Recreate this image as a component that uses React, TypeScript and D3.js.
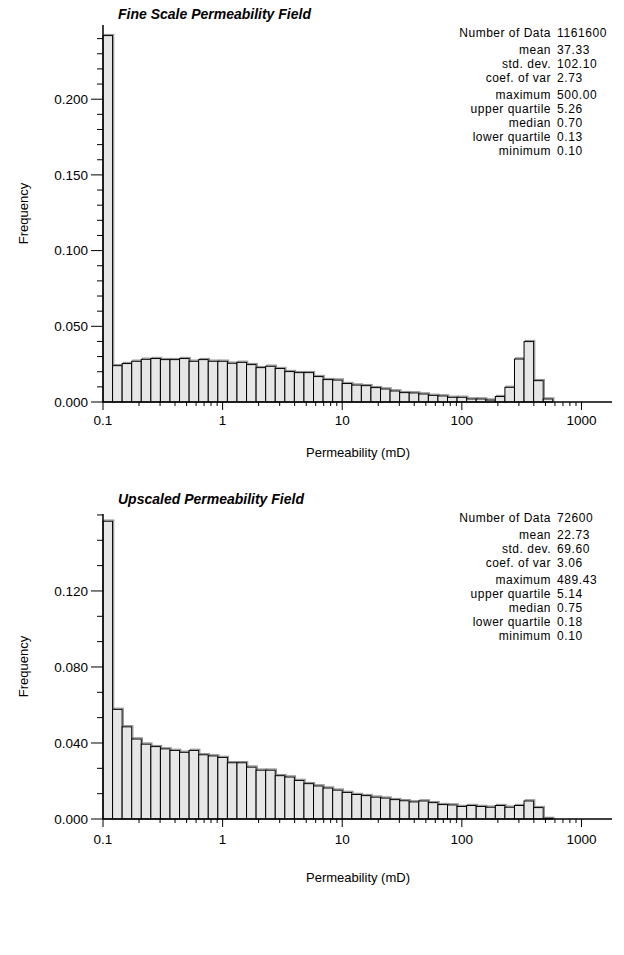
import React from 'react'
import * as d3 from 'd3'

// histogram bins: 50 log-spaced classes from 0.1 to 1000 mD
const binCount = 50
const logMin = -1
const logMax = 3

// class frequencies (bins past the last value are empty)
const fineFreq = [
  0.242, 0.024, 0.0254, 0.0269, 0.0282, 0.0287, 0.028, 0.028, 0.0287, 0.0269,
  0.028, 0.0269, 0.0269, 0.0256, 0.0262, 0.0247, 0.0227, 0.0236, 0.0221, 0.0201,
  0.0194, 0.0194, 0.0168, 0.0148, 0.0145, 0.0122, 0.0112, 0.0108, 0.0095, 0.0086,
  0.0073, 0.0062, 0.006, 0.0053, 0.0044, 0.004, 0.0031, 0.0031, 0.002, 0.002,
  0.0013, 0.0036, 0.0097, 0.0284, 0.0399, 0.0141, 0.002
]
const upFreq = [
  0.1567, 0.0577, 0.0485, 0.0421, 0.0394, 0.0381, 0.0369, 0.0361, 0.0351, 0.0361,
  0.0338, 0.0332, 0.0324, 0.0296, 0.0296, 0.0273, 0.0257, 0.0257, 0.0228, 0.0221,
  0.0203, 0.0186, 0.0174, 0.0163, 0.0152, 0.014, 0.0129, 0.0123, 0.0115, 0.011,
  0.0102, 0.0096, 0.009, 0.0095, 0.0086, 0.0076, 0.0074, 0.0066, 0.0071, 0.0066,
  0.0062, 0.0071, 0.0062, 0.0071, 0.0095, 0.006, 0.0003
]

const statLabels = [
  'Number of Data', 'mean', 'std. dev.', 'coef. of var',
  'maximum', 'upper quartile', 'median', 'lower quartile', 'minimum'
]
const fineStats = ['1161600', '37.33', '102.10', '2.73', '500.00', '5.26', '0.70', '0.13', '0.10']
const upStats = ['72600', '22.73', '69.60', '3.06', '489.43', '5.14', '0.75', '0.18', '0.10']

const xTickValues = [0.1, 1, 10, 100, 1000]
const xTickLabels = ['0.1', '1', '10', '100', '1000']
const fineYLabels = [0, 0.05, 0.1, 0.15, 0.2]
const upYLabels = [0, 0.04, 0.08, 0.12]

const font = "'Liberation Sans', Arial, sans-serif"

function Histogram({ layout, title, freq, stats, yMax, yMinor, yLabels }) {
  const { titleY, statsY, plotTop, plotBottom, tickY, labelY } = layout

  const x = d3.scaleLog().domain([0.1, 1800]).range([103, 612])
  const y = d3.scaleLinear().domain([0, yMax]).range([plotBottom, plotTop])

  const edges = d3.range(binCount + 1).map(i => Math.pow(10, logMin + ((logMax - logMin) * i) / binCount))
  const bars = freq.map((f, i) => ({
    x: x(edges[i]),
    w: x(edges[i + 1]) - x(edges[i]),
    y: y(f),
    h: y(0) - y(f)
  }))

  const yTicks = d3.range(0, Math.floor(yMax / yMinor + 1e-6) + 1).map(i => i * yMinor)
  const isMajor = v => yLabels.some(l => Math.abs(l - v) < 1e-6)
  const xTicks = x.ticks().filter(v => v >= 0.1)
  const fmt = d3.format('.3f')

  const statRows = [0, 17, 31, 45, 62, 76, 90, 104, 118]

  return (
    <g fontFamily={font} fill="#000">
      <text x={118} y={titleY} fontSize={14} fontWeight="bold" fontStyle="italic">{title}</text>

      {/* stats block */}
      {statLabels.map((s, i) => (
        <g key={s}>
          <text x={551} y={statsY + statRows[i]} dy="0.35em" fontSize={12} letterSpacing={0.5} textAnchor="end">{s}</text>
          <text x={557} y={statsY + statRows[i]} dy="0.35em" fontSize={12} letterSpacing={0.6}>{stats[i]}</text>
        </g>
      ))}

      {/* bars with a faint offset shadow */}
      {bars.map((b, i) => (
        <rect key={'s' + i} x={b.x + 1.2} y={b.y - 1.2} width={b.w} height={b.h} fill="none" stroke="#8a8a8a" strokeWidth={1} />
      ))}
      {bars.map((b, i) => (
        <rect key={i} x={b.x} y={b.y} width={b.w} height={b.h} fill="#e6e6e6" stroke="#000" strokeWidth={1} />
      ))}

      {/* y axis */}
      <line x1={103} x2={103} y1={plotTop} y2={plotBottom} stroke="#000" strokeWidth={1.5} />
      {yTicks.map(v => (
        <line key={v} x1={103 - (isMajor(v) ? 12 : 6)} x2={103} y1={y(v)} y2={y(v)} stroke="#000" strokeWidth={1} />
      ))}
      {yLabels.map(v => (
        <text key={'l' + v} x={88} y={y(v)} dy="0.35em" fontSize={13.5} textAnchor="end">{fmt(v)}</text>
      ))}
      <text transform={`translate(23,${(plotTop + plotBottom) / 2}) rotate(-90)`} fontSize={13} textAnchor="middle" dy="0.35em">Frequency</text>

      {/* x axis */}
      <line x1={103} x2={612} y1={plotBottom} y2={plotBottom} stroke="#000" strokeWidth={1.5} />
      {xTicks.map(v => {
        const major = xTickValues.some(t => Math.abs(t - v) < 1e-9)
        return <line key={v} x1={x(v)} x2={x(v)} y1={plotBottom} y2={plotBottom + (major ? 8 : 4)} stroke="#000" strokeWidth={1} />
      })}
      {xTickValues.map((v, i) => (
        <text key={'x' + v} x={x(v)} y={tickY} dy="0.35em" fontSize={13.5} textAnchor="middle">{xTickLabels[i]}</text>
      ))}
      <text x={358} y={labelY} dy="0.35em" fontSize={13} textAnchor="middle">Permeability (mD)</text>
    </g>
  )
}

const topLayout = { titleY: 19, statsY: 33, plotTop: 25, plotBottom: 402, tickY: 420, labelY: 452 }
const bottomLayout = { titleY: 504, statsY: 518, plotTop: 514, plotBottom: 819, tickY: 839, labelY: 877 }

export default function App() {
  return (
    <svg width={624} height={955} style={{ position: 'absolute', left: 0, top: 0, background: '#fff' }}>
      <Histogram layout={topLayout} title="Fine Scale Permeability Field" freq={fineFreq} stats={fineStats}
        yMax={0.249} yMinor={0.01} yLabels={fineYLabels} />
      <Histogram layout={bottomLayout} title="Upscaled Permeability Field" freq={upFreq} stats={upStats}
        yMax={0.1605} yMinor={0.04 / 3} yLabels={upYLabels} />
    </svg>
  )
}
